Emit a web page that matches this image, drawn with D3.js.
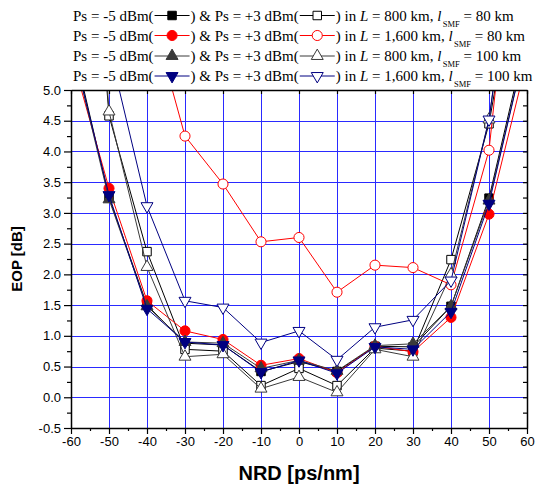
<!DOCTYPE html>
<html>
<head>
<meta charset="utf-8">
<script src="https://cdn.jsdelivr.net/npm/d3@7"></script>
<style>
  body { margin: 0; background: #fff; }
  svg { display: block; }
  .legend text { white-space: pre; }
</style>
</head>
<body>
<svg id="chart" width="535" height="485"></svg>
<script>
// NRD values (ps/nm); the +-60 points sit outside the frame and are clipped
const nrd = [-60, -50, -40, -30, -20, -10, 0, 10, 20, 30, 40, 50, 60];

// L = 800 km, l_SMF = 80 km
const sq5 = [5.9, 3.25, 1.50, 0.88, 0.85, 0.42, 0.58, 0.42, 0.83, 0.82, 1.48, 3.24, 5.9];
const sq3 = [12.5, 4.58, 2.37, 0.78, 0.75, 0.19, 0.47, 0.19, 0.80, 0.75, 2.24, 4.45, 8.0];
// L = 1,600 km, l_SMF = 80 km
const ci5 = [5.6, 3.40, 1.57, 1.08, 0.94, 0.52, 0.63, 0.40, 0.83, 0.74, 1.30, 2.98, 5.5];
const ci3 = [11.0, 9.0, 6.5, 4.25, 3.47, 2.53, 2.60, 1.71, 2.15, 2.11, 1.83, 4.02, 9.8];
// L = 800 km, l_SMF = 100 km
const tu5 = [5.8, 3.22, 1.48, 0.90, 0.88, 0.47, 0.60, 0.43, 0.84, 0.87, 1.48, 3.20, 5.8];
const tu3 = [14.0, 4.65, 2.12, 0.66, 0.70, 0.14, 0.33, 0.08, 0.78, 0.66, 2.00, 4.52, 9.0];
// L = 1,600 km, l_SMF = 100 km
const td5 = [5.8, 3.29, 1.44, 0.90, 0.85, 0.41, 0.60, 0.39, 0.82, 0.78, 1.39, 3.15, 5.8];
const td3 = [9.0, 5.7, 3.11, 1.57, 1.46, 0.89, 1.08, 0.61, 1.14, 1.26, 1.90, 4.52, 9.0];

const xTicks = [-60, -50, -40, -30, -20, -10, 0, 10, 20, 30, 40, 50, 60];
const yTicks = [-0.5, 0.0, 0.5, 1.0, 1.5, 2.0, 2.5, 3.0, 3.5, 4.0, 4.5, 5.0];

const legendRows = [
  { L: "800", lsmf: "80" },
  { L: "1,600", lsmf: "80" },
  { L: "800", lsmf: "100" },
  { L: "1,600", lsmf: "100" }
];

const series = [
  { vals: sq5, sym: "square", color: "#000", fill: "#000", row: 0 },
  { vals: sq3, sym: "square", color: "#000", fill: "#fff", row: 0 },
  { vals: ci5, sym: "circle", color: "#ff0000", fill: "#ff0000", row: 1 },
  { vals: ci3, sym: "circle", color: "#ff0000", fill: "#fff", row: 1 },
  { vals: tu5, sym: "up", color: "#3a3a3a", fill: "#3a3a3a", row: 2 },
  { vals: tu3, sym: "up", color: "#3a3a3a", fill: "#fff", row: 2 },
  { vals: td5, sym: "down", color: "#000080", fill: "#000080", row: 3 },
  { vals: td3, sym: "down", color: "#000080", fill: "#fff", row: 3 }
];

const svg = d3.select("#chart");
const pLeft = 71, pRight = 527, pTop = 90, pBottom = 428;

const x = d3.scaleLinear().domain([-60, 60]).range([pLeft, pRight]);
const y = d3.scaleLinear().domain([-0.5, 5]).range([pBottom, pTop]);

svg.append("defs").append("clipPath").attr("id", "plotclip")
  .append("rect")
  .attr("x", pLeft).attr("y", pTop)
  .attr("width", pRight - pLeft).attr("height", pBottom - pTop);

// grid
const grid = svg.append("g").attr("stroke", "#2a2aff").attr("stroke-width", 1);
grid.selectAll("line.v")
  .data(xTicks.slice(1, -1))
  .enter().append("line")
  .attr("x1", d => Math.round(x(d)) + 0.5).attr("x2", d => Math.round(x(d)) + 0.5)
  .attr("y1", pTop).attr("y2", pBottom);
grid.selectAll("line.h")
  .data(yTicks.slice(1, -1))
  .enter().append("line")
  .attr("y1", d => Math.round(y(d)) + 0.5).attr("y2", d => Math.round(y(d)) + 0.5)
  .attr("x1", pLeft).attr("x2", pRight);

function symPath(s) {
  if (s === "square") return d3.symbol(d3.symbolSquare, 72)();
  if (s === "circle") return d3.symbol(d3.symbolCircle, 80)();
  return d3.symbol(d3.symbolTriangle, 62)();
}

function drawMarker(sel, s, color, fill) {
  return sel.append("path")
    .attr("d", symPath(s))
    .attr("fill", fill)
    .attr("stroke", color)
    .attr("stroke-width", 1);
}

const line = d3.line().x(d => x(d[0])).y(d => y(d[1]));
const plot = svg.append("g").attr("clip-path", "url(#plotclip)");

series.forEach(s => {
  const pts = nrd.map((n, i) => [n, s.vals[i]]);
  plot.append("path")
    .datum(pts)
    .attr("fill", "none")
    .attr("stroke", s.color)
    .attr("stroke-width", 1)
    .attr("d", line);
  const pinside = pts.filter(p => p[1] <= 5 && p[0] > -60 && p[0] < 60);
  pinside.forEach(p => {
    const m = drawMarker(plot, s.sym, s.color, s.fill);
    m.attr("transform", "translate(" + x(p[0]) + "," + y(p[1]) + ")" + (s.sym === "down" ? " rotate(180)" : ""));
  });
});

// axes
const fmtX = d => String(d);
const fmtY = d => d.toFixed(1);
const axisFont = "'Liberation Sans', Arial, sans-serif";

function styleAxis(g) {
  g.selectAll(".domain").attr("stroke", "#000").attr("stroke-width", 1.5);
  g.selectAll(".tick line").attr("stroke", "#000").attr("stroke-width", 1.2);
  g.selectAll("text").attr("font-family", axisFont).attr("font-size", 13).attr("fill", "#000");
}

const xMinor = d3.range(-55, 60, 10);
const yMinor = d3.range(-0.25, 5, 0.5);
const yQuarter = d3.range(-0.25, 5, 0.25);

svg.append("g")
  .attr("transform", "translate(0," + pBottom + ")")
  .call(d3.axisBottom(x).tickValues(xMinor).tickSize(3).tickFormat(""))
  .call(g => g.select(".domain").remove())
  .call(styleAxis);
svg.append("g")
  .attr("transform", "translate(0," + pBottom + ")")
  .call(d3.axisBottom(x).tickValues(xTicks).tickSize(6).tickSizeOuter(0).tickPadding(3).tickFormat(fmtX))
  .call(styleAxis);

svg.append("g")
  .attr("transform", "translate(" + pLeft + ",0)")
  .call(d3.axisLeft(y).tickValues(yMinor).tickSize(4).tickFormat(""))
  .call(g => g.select(".domain").remove())
  .call(styleAxis);
svg.append("g")
  .attr("transform", "translate(" + pLeft + ",0)")
  .call(d3.axisLeft(y).tickValues(yTicks).tickSize(7).tickSizeOuter(0).tickPadding(3).tickFormat(fmtY))
  .call(styleAxis);

// right axis, ticks pointing inward
svg.append("g")
  .attr("transform", "translate(" + pRight + ",0)")
  .call(d3.axisLeft(y).tickValues(yQuarter).tickSize(4).tickSizeOuter(0).tickFormat(""))
  .call(styleAxis);

// top axis, ticks pointing inward
svg.append("g")
  .attr("transform", "translate(0," + pTop + ")")
  .call(d3.axisBottom(x).tickValues(xTicks).tickSize(4).tickSizeOuter(0).tickFormat(""))
  .call(styleAxis);

// axis titles
svg.append("text")
  .attr("x", (pLeft + pRight) / 2).attr("y", 480)
  .attr("text-anchor", "middle")
  .attr("font-family", axisFont).attr("font-weight", "bold").attr("font-size", 20)
  .text("NRD [ps/nm]");

svg.append("text")
  .attr("transform", "translate(22," + (pTop + pBottom) / 2 + ") rotate(-90)")
  .attr("text-anchor", "middle")
  .attr("font-family", axisFont).attr("font-weight", "bold").attr("font-size", 15)
  .text("EOP [dB]");

// legend
const serif = "'Liberation Serif', 'Times New Roman', serif";
const legend = svg.append("g").attr("class", "legend")
  .attr("font-family", serif).attr("font-size", 15).attr("fill", "#000");
const rowY = [20.5, 40.5, 61, 81];
const gap = 37;

function addText(g, xx, yy, str, opts) {
  const t = g.append("text").attr("x", xx).attr("y", yy).text(str);
  if (opts && opts.italic) t.attr("font-style", "italic");
  if (opts && opts.size) t.attr("font-size", opts.size);
  return xx + t.node().getComputedTextLength();
}

function addSym(g, xx, yy, s) {
  g.append("line")
    .attr("x1", xx + 1).attr("x2", xx + gap - 1)
    .attr("y1", yy).attr("y2", yy)
    .attr("stroke", s.color).attr("stroke-width", 1);
  drawMarker(g, s.sym, s.color, s.fill)
    .attr("transform", "translate(" + (xx + gap / 2) + "," + yy + ")" + (s.sym === "down" ? " rotate(180)" : ""));
  return xx + gap;
}

legendRows.forEach((r, i) => {
  const yy = rowY[i];
  const mid = yy - 5;
  const sf = series.filter(s => s.row === i);
  let cx = 73;
  cx = addText(legend, cx, yy, "Ps = -5 dBm(");
  cx = addSym(legend, cx, mid, sf[0]);
  cx = addText(legend, cx, yy, ") & Ps = +3 dBm(");
  cx = addSym(legend, cx, mid, sf[1]);
  cx = addText(legend, cx, yy, ") in ");
  cx = addText(legend, cx, yy, "L", { italic: true });
  cx = addText(legend, cx, yy, " = " + r.L + " km, ");
  cx = addText(legend, cx, yy, "l", { italic: true });
  cx = addText(legend, cx + 1.5, yy + 6, "SMF", { size: 8.5 });
  cx = addText(legend, cx, yy, " = " + r.lsmf + " km");
});
</script>
</body>
</html>
